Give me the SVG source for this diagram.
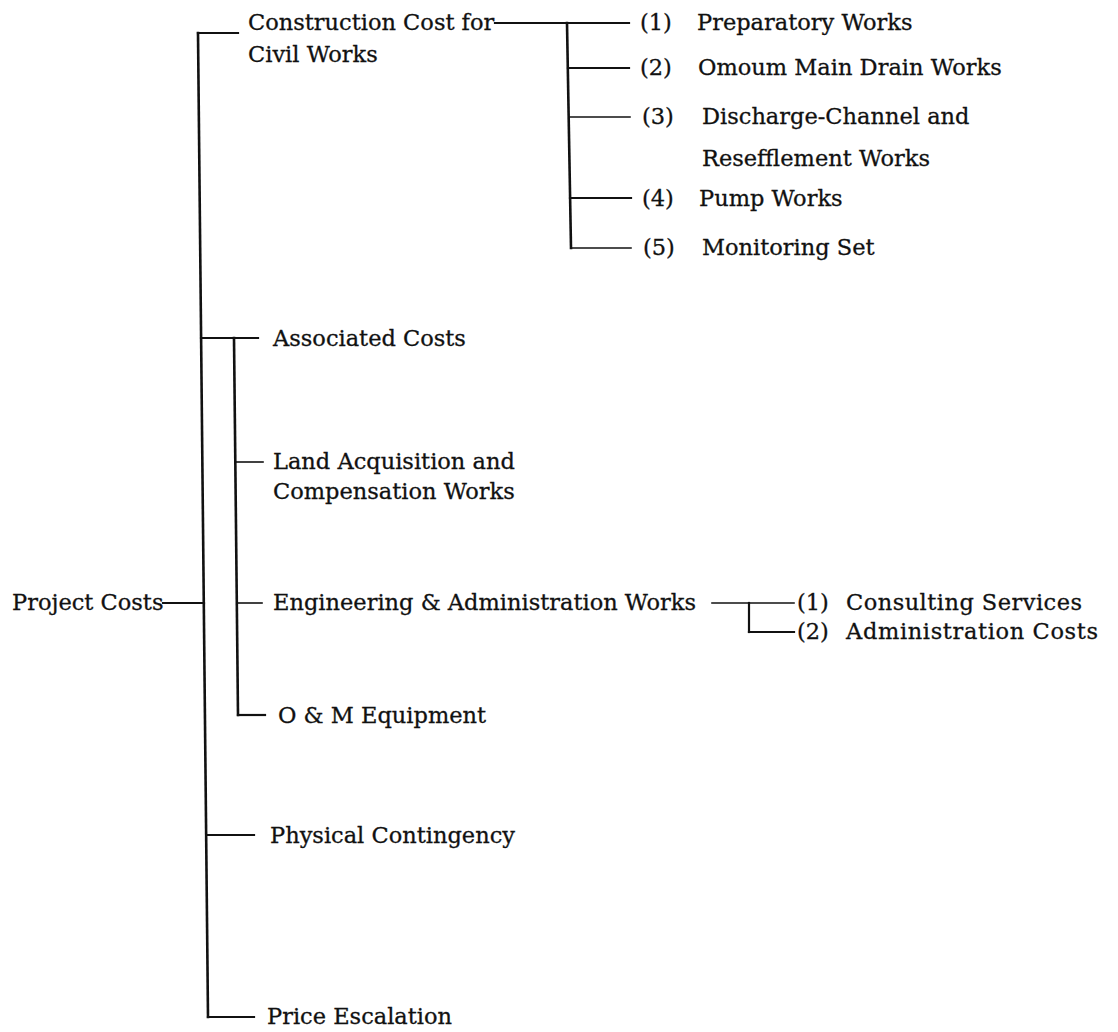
<svg xmlns="http://www.w3.org/2000/svg" width="1118" height="1032" viewBox="0 0 1118 1032">
<style>
text{font-family:"DejaVu Serif","Liberation Serif",serif;font-size:22.5px;fill:#111;stroke:#111;stroke-width:0.3;}
.c line{stroke:#111;stroke-width:2.2;fill:none;stroke-linecap:square;}
.c .v{stroke-width:2.6;}
.c .t{stroke-width:1.6;}
</style>
<rect x="0" y="0" width="1118" height="1032" fill="#fff"/>
<g class="c" id="connectors">
<line x1="198" y1="33" x2="208" y2="1017" class="v"/>
<line x1="198" y1="33" x2="238" y2="33"/>
<line x1="163" y1="603" x2="204" y2="603"/>
<line x1="495" y1="23" x2="629" y2="23"/>
<line x1="567" y1="23" x2="571" y2="248" class="v"/>
<line x1="568" y1="68" x2="629" y2="68"/>
<line x1="569" y1="117" x2="630" y2="117" class="t"/>
<line x1="570" y1="198" x2="631" y2="198"/>
<line x1="571" y1="248" x2="631" y2="248" class="t"/>
<line x1="201" y1="338" x2="258" y2="338"/>
<line x1="234" y1="338" x2="238" y2="715" class="v"/>
<line x1="236" y1="462" x2="263" y2="462" class="t"/>
<line x1="237" y1="603" x2="262" y2="603" class="t"/>
<line x1="238" y1="715" x2="265" y2="715"/>
<line x1="207" y1="835" x2="254" y2="835"/>
<line x1="208" y1="1017" x2="254" y2="1017"/>
<line x1="712" y1="603" x2="794" y2="603" class="t"/>
<line x1="749" y1="603" x2="749" y2="632"/>
<line x1="749" y1="632" x2="794" y2="632"/>
</g>
<g id="n-project"><text x="12" y="610">Project Costs</text></g>
<g id="n-construction"><text x="248" y="30">Construction Cost for</text><text x="248" y="62">Civil Works</text></g>
<g id="n-c1"><text x="640" y="30">(1)</text><text x="697" y="30">Preparatory Works</text></g>
<g id="n-c2"><text x="640" y="75">(2)</text><text x="698" y="75">Omoum Main Drain Works</text></g>
<g id="n-c3"><text x="642" y="124">(3)</text><text x="702" y="124">Discharge-Channel and</text><text x="702" y="166">Resefflement Works</text></g>
<g id="n-c4"><text x="642" y="206">(4)</text><text x="699" y="206">Pump Works</text></g>
<g id="n-c5"><text x="643" y="255">(5)</text><text x="702" y="255">Monitoring Set</text></g>
<g id="n-associated"><text x="273" y="346">Associated Costs</text></g>
<g id="n-land"><text x="273" y="469">Land Acquisition and</text><text x="273" y="499">Compensation Works</text></g>
<g id="n-engineering"><text x="273" y="610">Engineering &amp; Administration Works</text></g>
<g id="n-e1"><text x="797" y="610">(1)</text><text x="846" y="610" textLength="236">Consulting Services</text></g>
<g id="n-e2"><text x="797" y="639">(2)</text><text x="846" y="639" textLength="252">Administration Costs</text></g>
<g id="n-om"><text x="278" y="723">O &amp; M Equipment</text></g>
<g id="n-physical"><text x="270" y="843">Physical Contingency</text></g>
<g id="n-price"><text x="267" y="1024">Price Escalation</text></g>
</svg>
